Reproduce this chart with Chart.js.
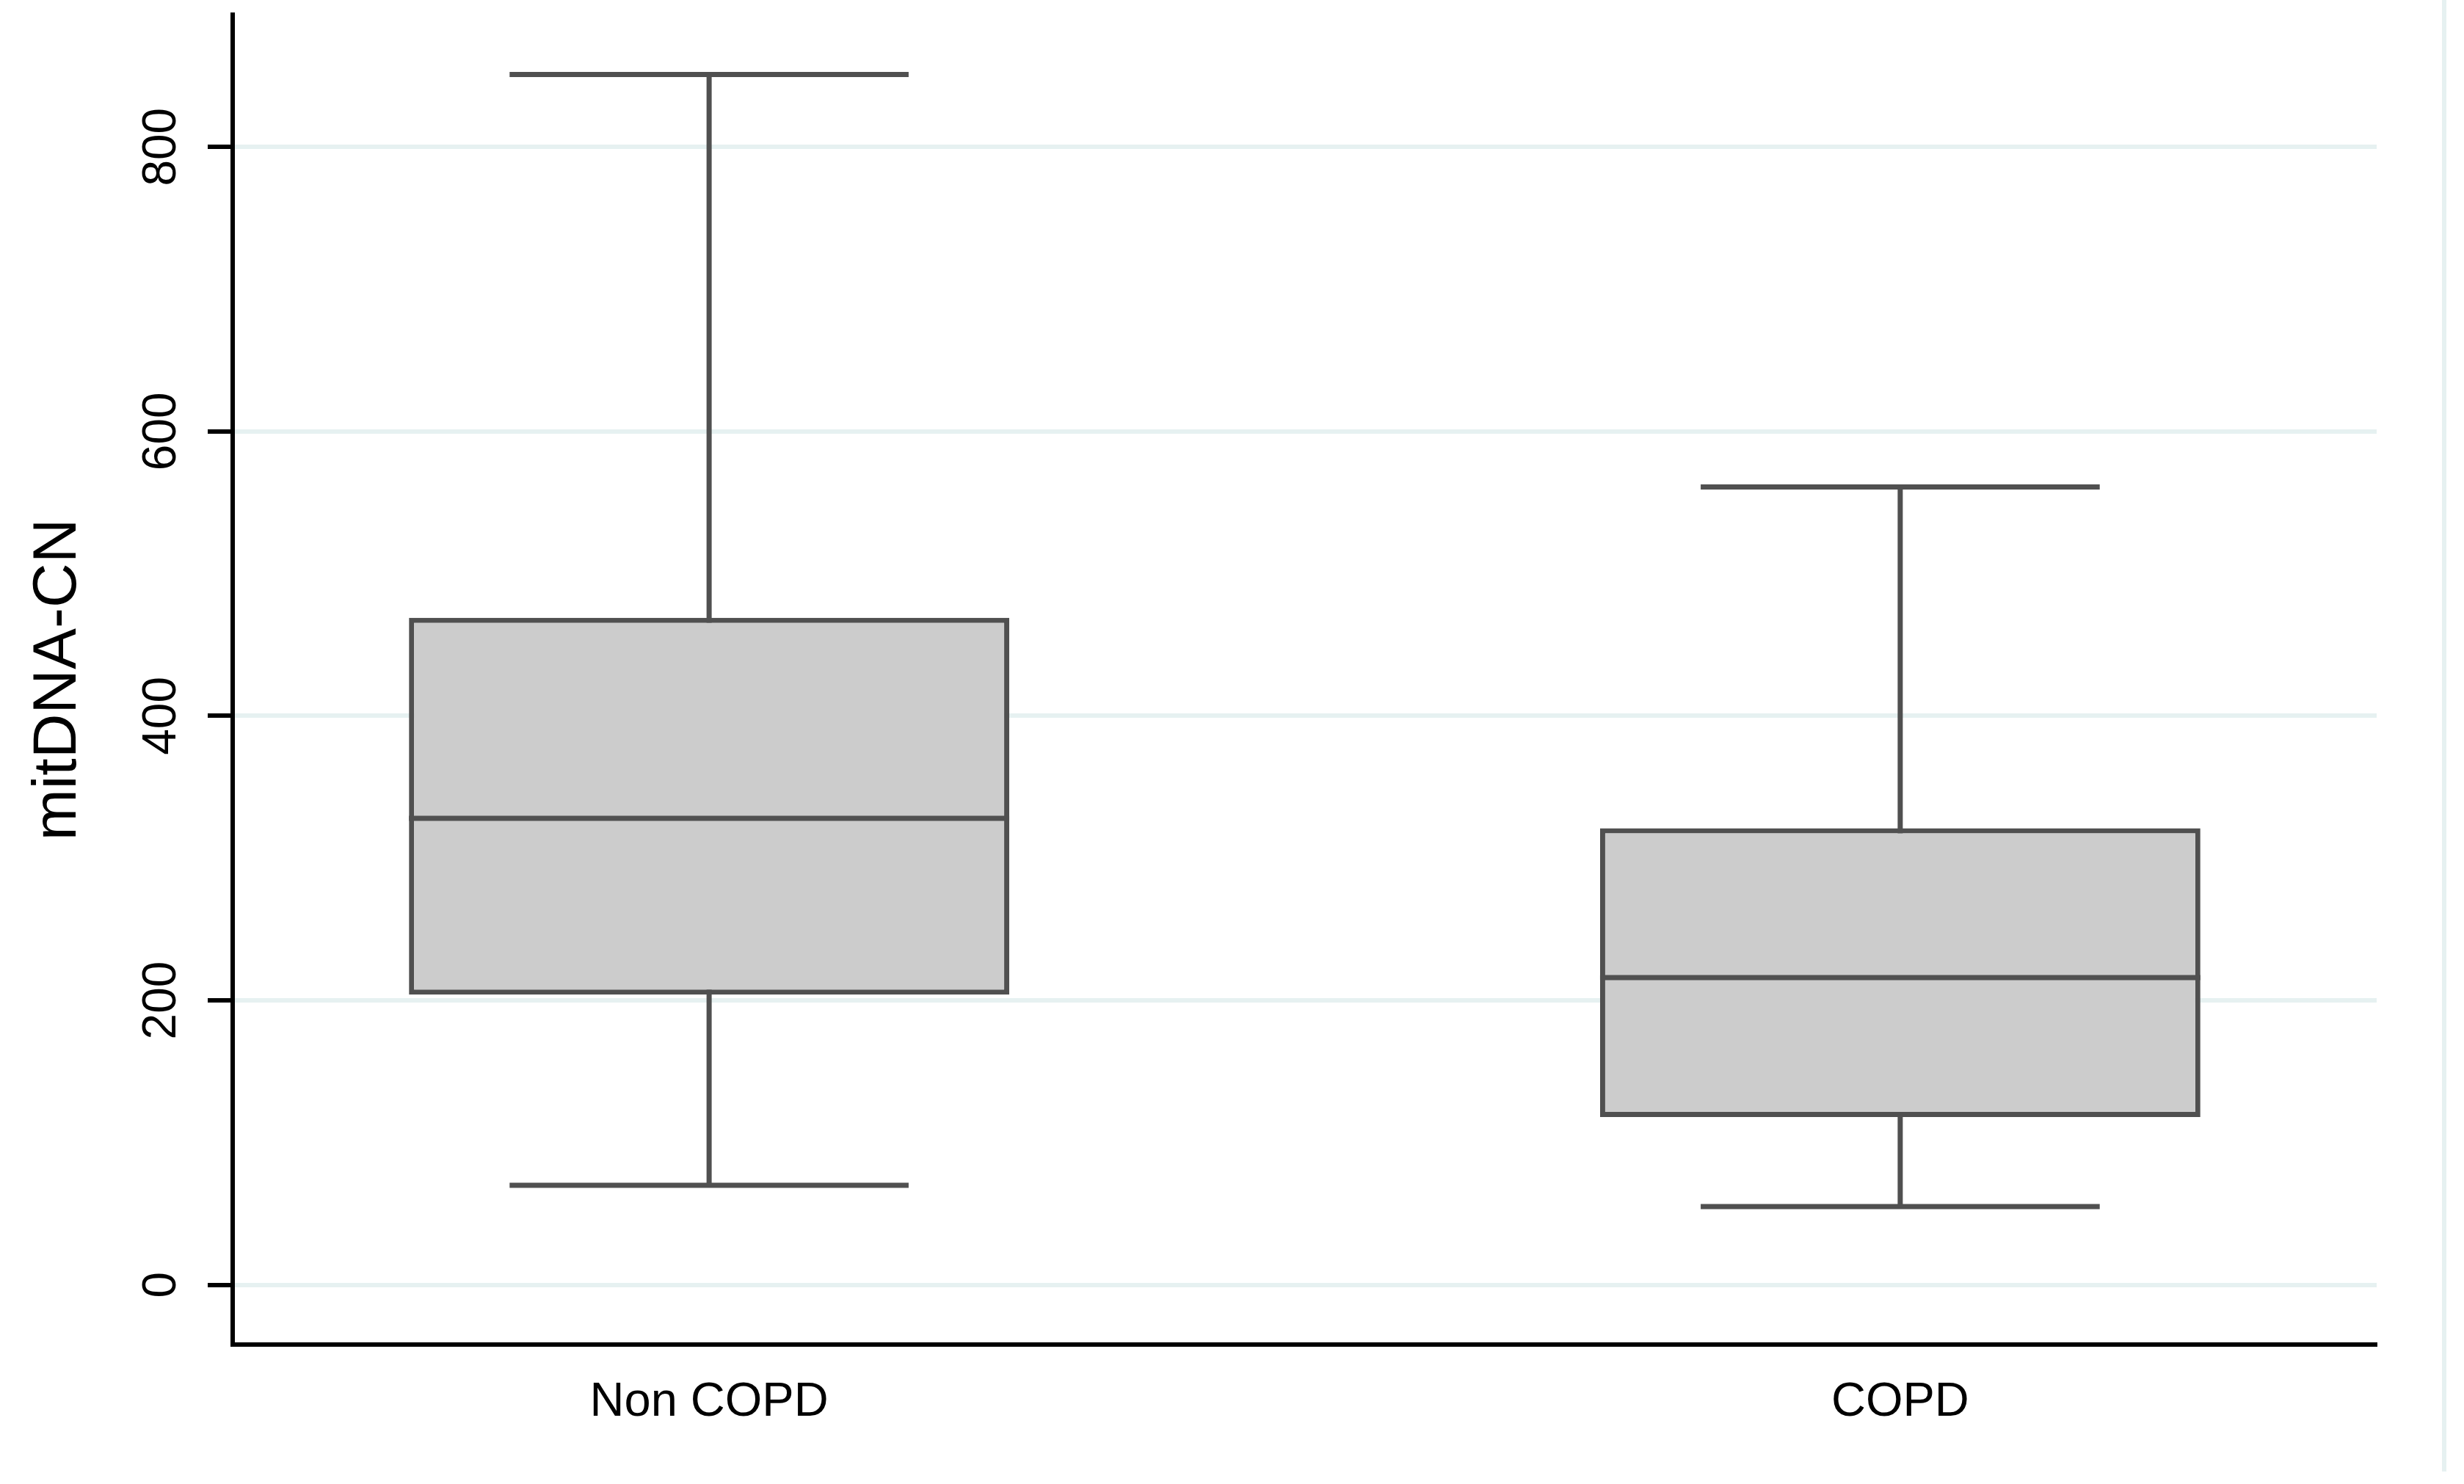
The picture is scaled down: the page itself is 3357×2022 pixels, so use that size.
<!DOCTYPE html>
<html>
<head>
<meta charset="utf-8">
<script src="https://cdn.jsdelivr.net/npm/chart.js@4/dist/chart.umd.min.js"></script>
<style>
html, body { margin: 0; padding: 0; background: #ffffff; }
#wrap { position: relative; width: 3357px; height: 2022px; overflow: hidden; background: #ffffff; }
#wrap canvas { position: absolute; left: 0; top: 0; }
#frame { position: absolute; left: 3327px; top: 0; width: 6px; height: 2005px; background: #e6f1f1; }
</style>
</head>
<body>
<div id="wrap"><canvas id="c" width="3357" height="2022"></canvas><div id="frame"></div></div>
<script>
// ---- data ----
const categories = ['Non COPD', 'COPD'];
const whiskerLow = [70, 55];
const q1 = [204, 118];
const median = [328, 216];
const q3 = [469, 321];
const whiskerHigh = [851, 561];
const yTicks = [0, 200, 400, 600, 800];
const yTitle = 'mitDNA-CN';

// ---- style ----
const LINE = '#505050';
const BOX_FILL = '#cccccc';
const GRID = '#e6f1f1';
const SANS = '"Liberation Sans", Arial, sans-serif';
const CAP_FRACTION = 0.335;   // whisker cap width, in category units
const STROKE = 7;

const boxParts = {
  id: 'boxParts',
  beforeDatasetsDraw(chart) {
    const { ctx, scales: { x, y } } = chart;
    ctx.save();
    ctx.strokeStyle = LINE;
    ctx.lineWidth = STROKE;
    ctx.lineCap = 'butt';
    categories.forEach((c, i) => {
      const cx = x.getPixelForValue(i + 1);
      const half = x.getPixelForValue(i + 1 + CAP_FRACTION / 2) - cx;
      const yLo = y.getPixelForValue(whiskerLow[i]);
      const yHi = y.getPixelForValue(whiskerHigh[i]);
      ctx.beginPath();
      ctx.moveTo(cx, yLo);
      ctx.lineTo(cx, yHi);
      ctx.moveTo(cx - half, yLo);
      ctx.lineTo(cx + half, yLo);
      ctx.moveTo(cx - half, yHi);
      ctx.lineTo(cx + half, yHi);
      ctx.stroke();
    });
    ctx.restore();
  },
  afterDatasetsDraw(chart) {
    const { ctx, scales: { y } } = chart;
    const meta = chart.getDatasetMeta(0);
    ctx.save();
    ctx.strokeStyle = LINE;
    ctx.lineWidth = STROKE;
    meta.data.forEach((bar, i) => {
      const { x, width } = bar.getProps(['x', 'width'], true);
      const py = y.getPixelForValue(median[i]);
      ctx.beginPath();
      ctx.moveTo(x - width / 2, py);
      ctx.lineTo(x + width / 2, py);
      ctx.stroke();
    });
    ctx.restore();
  }
};

new Chart(document.getElementById('c'), {
  type: 'bar',
  data: {
    datasets: [{
      label: 'IQR',
      data: categories.map((c, i) => ({ x: i + 1, y: [q1[i], q3[i]] })),
      backgroundColor: BOX_FILL,
      borderColor: LINE,
      borderWidth: STROKE,
      borderSkipped: false,
      barPercentage: 0.504,
      categoryPercentage: 1,
      grouped: false
    }]
  },
  options: {
    responsive: false,
    devicePixelRatio: 1,
    animation: false,
    layout: { padding: { top: 20, right: 119, bottom: 0, left: 0 } },
    plugins: { legend: { display: false }, tooltip: { enabled: false } },
    scales: {
      x: {
        type: 'linear',
        min: 0.6,
        max: 2.4,
        offset: false,
        afterBuildTicks: s => { s.ticks = categories.map((c, i) => ({ value: i + 1 })); },
        afterFit: s => { s.height = 190; s.paddingLeft = 0; s.paddingRight = 0; },
        grid: { display: false, drawTicks: false },
        border: { display: true, color: '#000000', width: 6 },
        ticks: {
          autoSkip: false,
          minRotation: 0,
          maxRotation: 0,
          padding: 40,
          color: '#000000',
          font: { family: SANS, size: 65 },
          callback: v => categories[Math.round(v) - 1] ?? ''
        }
      },
      y: {
        type: 'linear',
        min: -42,
        max: 893,
        afterBuildTicks: s => { s.ticks = yTicks.map(v => ({ value: v })); },
        afterFit: s => { s.width = 317; s.paddingTop = 0; s.paddingBottom = 0; },
        grid: { color: GRID, lineWidth: 6, drawTicks: true, tickLength: 34, tickColor: '#000000', tickWidth: 6 },
        border: { display: true, color: '#000000', width: 6 },
        ticks: {
          autoSkip: false,
          minRotation: 90,
          maxRotation: 90,
          crossAlign: 'center',
          padding: 8,
          color: '#000000',
          font: { family: SANS, size: 64 }
        },
        title: {
          display: true,
          text: yTitle,
          color: '#000000',
          font: { family: SANS, size: 84 },
          padding: { top: 29, bottom: 0 }
        }
      }
    }
  },
  plugins: [boxParts]
});
</script>
</body>
</html>
